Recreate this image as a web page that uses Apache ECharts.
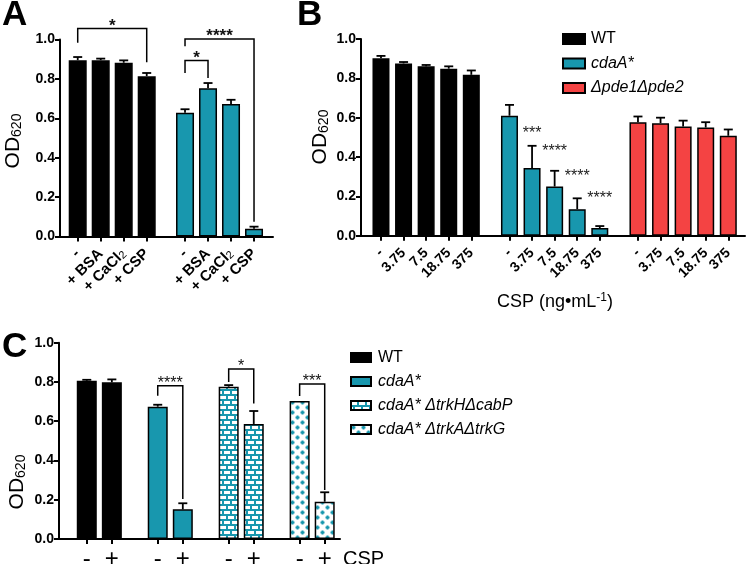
<!DOCTYPE html>
<html><head><meta charset="utf-8">
<script src="https://cdn.jsdelivr.net/npm/echarts@6/dist/echarts.min.js"></script>
<style>html,body{margin:0;padding:0;background:#fff}#c{width:750px;height:564px}</style>
</head><body><div id="c"></div>
<script>
// ================= DATA =================
// Panel A
const labelsA = ['-', '+ BSA', '+ CaCl{sub|2}', '+ CSP'];
const wtA = [0.895, 0.895, 0.882, 0.814];
const wtA_err = [0.016, 0.008, 0.012, 0.016];
const cdaA_A = [0.628, 0.752, 0.672, 0.039];
const cdaA_A_err = [0.018, 0.027, 0.022, 0.011];
// brackets: [group1, idx1, group2, idx2, top, leftEnd, rightEnd]
const bracketsA = [[0, 0, 0, 3, 1.056, 0.983, 0.884], [1, 0, 1, 3, 1.003, 0.966, 0.075], [1, 0, 1, 1, 0.893, 0.83, 0.805]];
const bracketTextA = ['*', '****', '*'];

// Panel B  (CSP ng/mL)
const labelsB = ['-', '3.75', '7.5', '18.75', '375'];
const wtB = [0.902, 0.876, 0.861, 0.849, 0.818];
const wtB_err = [0.012, 0.007, 0.007, 0.012, 0.022];
const cdaA_B = [0.61, 0.344, 0.25, 0.135, 0.039];
const cdaA_B_err = [0.055, 0.113, 0.08, 0.055, 0.01];
const pdeB = [0.577, 0.572, 0.555, 0.55, 0.508];
const pdeB_err = [0.029, 0.028, 0.03, 0.027, 0.032];
const starIdxB = [1, 2, 3, 4];
const starTextB = ['***', '****', '****', '****'];
const starYB = [0.52, 0.43, 0.30, 0.19];

// Panel C
const labelsC = ['-', '+'];
const strainsC = ['WT', 'cdaA*', 'cdaA* \u0394trkH\u0394cabP', 'cdaA* \u0394trkA\u0394trkG'];
const valuesC = [[0.806, 0.798], [0.674, 0.151], [0.776, 0.586], [0.703, 0.19]];
const errorsC = [[0.005, 0.015], [0.01, 0.031], [0.008, 0.066], [0, 0.048]];
const bracketsC = [[1, 0, 1, 1, 0.781, 0.73, 0.204], [2, 0, 2, 1, 0.866, 0.80, 0.69], [3, 0, 3, 1, 0.79, 0.728, 0.25]];
const bracketTextC = ['****', '*', '***'];

const yTicks = [0, 0.2, 0.4, 0.6, 0.8, 1.0];

// ================= STYLE / LAYOUT =================
const FONT = '"Liberation Sans", Arial, Helvetica, sans-serif';
const BLACK = '#000000', TEAL = '#1897ae', RED = '#f44343';

function brickPattern() {
  const c = document.createElement('canvas'); c.width = 8; c.height = 10;
  const g = c.getContext('2d');
  g.fillStyle = TEAL; g.fillRect(0, 0, 8, 10);
  g.fillStyle = '#ffffff';
  g.fillRect(0, 1, 6, 3); g.fillRect(4, 6, 4, 3); g.fillRect(0, 6, 2, 3);
  return c;
}
function plusPattern() {
  const c = document.createElement('canvas'); c.width = 10; c.height = 10;
  const g = c.getContext('2d');
  g.fillStyle = '#ffffff'; g.fillRect(0, 0, 10, 10);
  g.fillStyle = TEAL;
  [[2.5, 2.5], [7.5, 7.5]].forEach(([cx, cy]) => { g.fillRect(cx - 1, cy - 2, 2, 4); g.fillRect(cx - 2, cy - 1, 4, 2); });
  return c;
}
const colorsC = [BLACK, TEAL, { image: brickPattern(), repeat: 'repeat' }, { image: plusPattern(), repeat: 'repeat' }];

const layout = {
  A: { n: 4, gap: 1.665, min: -0.77, max: 8.49, grid: { left: 60, top: 39.5, width: 213, height: 197 }, bw: 18 },
  B: { n: 5, gap: 1.69, min: -0.885, max: 16.12, grid: { left: 361, top: 39, width: 384, height: 196.7 }, bw: 17 },
  C: { n: 2, gap: 1.83, min: -1.108, max: 10.10, grid: { left: 59, top: 342.7, width: 281, height: 196.3 }, bw: 20 }
};
function pos(L, g, i) { return g * (L.n - 1 + L.gap) + i; }

const grids = [], xAxes = [], yAxes = [], series = [];

function addAxes(L, gi, nGroups, labels, labelOpt) {
  grids.push(Object.assign({ containLabel: false, outerBoundsMode: 'none' }, L.grid));
  const ticks = [], map = {};
  for (let g = 0; g < nGroups; g++) for (let i = 0; i < L.n; i++) {
    const p = pos(L, g, i); ticks.push(p); map[Math.round(p * 1000)] = labels[i];
  }
  xAxes.push({
    type: 'value', gridIndex: gi, min: L.min, max: L.max,
    axisLine: { show: true, onZero: false, lineStyle: { color: '#000', width: 2 } },
    axisTick: { show: true, customValues: ticks, length: 5, lineStyle: { color: '#000', width: 2 } },
    axisLabel: Object.assign({ customValues: ticks, formatter: v => map[Math.round(v * 1000)] || '', color: '#000', fontFamily: FONT }, labelOpt),
    splitLine: { show: false }
  });
  yAxes.push({
    type: 'value', gridIndex: gi, min: 0, max: 1, interval: 0.2,
    axisLine: { show: true, onZero: false, lineStyle: { color: '#000', width: 2 } },
    axisTick: { show: true, length: 5, lineStyle: { color: '#000', width: 2 } },
    axisLabel: { formatter: v => yTicks.includes(+v.toFixed(1)) ? v.toFixed(1) : '', fontSize: 14, fontWeight: 'bold', color: '#000', margin: 5, fontFamily: FONT },
    splitLine: { show: false }
  });
}

function addBars(name, gi, L, g, vals, color) {
  series.push({
    type: 'bar', name, xAxisIndex: gi, yAxisIndex: gi, barWidth: L.bw, barGap: '-100%',
    data: vals.map((v, i) => [pos(L, g, i), v]),
    itemStyle: { color, borderColor: '#000', borderWidth: 1.5 }, silent: true
  });
}
function addErr(gi, L, items) { // items: [g, i, mean, err]
  series.push({
    type: 'custom', xAxisIndex: gi, yAxisIndex: gi, silent: true, clip: false, z: 3,
    data: items.map(([g, i, m, e]) => [pos(L, g, i), m, e]),
    encode: { x: 0, y: 1 },
    renderItem: (params, api) => {
      const x = api.value(0), m = api.value(1), e = api.value(2);
      if (!(e > 0)) return null;
      const p0 = api.coord([x, m]), p1 = api.coord([x, m + e]);
      const st = { stroke: '#000', lineWidth: 1.8 };
      return { type: 'group', children: [
        { type: 'line', shape: { x1: p0[0], y1: p0[1], x2: p1[0], y2: p1[1] }, style: st },
        { type: 'line', shape: { x1: p1[0] - 4.5, y1: p1[1], x2: p1[0] + 4.5, y2: p1[1] }, style: st }
      ] };
    }
  });
}
function addBrackets(gi, L, list, texts, font, textOff) {
  series.push({
    type: 'custom', xAxisIndex: gi, yAxisIndex: gi, silent: true, clip: false, z: 4,
    data: list.map(b => [pos(L, b[0], b[1]), pos(L, b[2], b[3]), b[4], b[5], b[6]]),
    encode: { x: 0, y: 2 },
    renderItem: (params, api) => {
      const x1 = api.value(0), x2 = api.value(1), t = api.value(2), yl = api.value(3), yr = api.value(4);
      const a = api.coord([x1, yl]), b = api.coord([x1, t]), c = api.coord([x2, t]), d = api.coord([x2, yr]);
      return { type: 'group', children: [
        { type: 'polyline', shape: { points: [a, b, c, d] }, style: { stroke: '#000', lineWidth: 1.5, fill: null } },
        { type: 'text', x: (b[0] + c[0]) / 2, y: b[1] - textOff, style: { text: texts[params.dataIndex], font, fill: '#111', align: 'center', verticalAlign: 'middle' } }
      ] };
    }
  });
}

// ---- Panel A
const LA = layout.A;
addAxes(LA, 0, 2, labelsA, { rotate: 45, fontSize: 15, fontWeight: 'bold', margin: 15,
  rich: { sub: { fontSize: 11, fontWeight: 'normal', verticalAlign: 'bottom', fontFamily: FONT, color: '#000' } } });
addBars('WT', 0, LA, 0, wtA, BLACK);
addBars('cdaA*', 0, LA, 1, cdaA_A, TEAL);
addErr(0, LA, wtA.map((v, i) => [0, i, v, wtA_err[i]]).concat(cdaA_A.map((v, i) => [1, i, v, cdaA_A_err[i]])));
addBrackets(0, LA, bracketsA, bracketTextA, 'bold 17px ' + FONT, 2.5);

// ---- Panel B
const LB = layout.B;
addAxes(LB, 1, 3, labelsB, { rotate: 45, fontSize: 14, fontWeight: 'bold', margin: 15 });
addBars('WT', 1, LB, 0, wtB, BLACK);
addBars('cdaA*', 1, LB, 1, cdaA_B, TEAL);
addBars('\u0394pde1\u0394pde2', 1, LB, 2, pdeB, RED);
addErr(1, LB, wtB.map((v, i) => [0, i, v, wtB_err[i]])
  .concat(cdaA_B.map((v, i) => [1, i, v, cdaA_B_err[i]]))
  .concat(pdeB.map((v, i) => [2, i, v, pdeB_err[i]])));
series.push({
  type: 'custom', xAxisIndex: 1, yAxisIndex: 1, silent: true, clip: false, z: 4,
  data: starIdxB.map((i, k) => [pos(LB, 1, i), starYB[k]]),
  encode: { x: 0, y: 1 },
  renderItem: (params, api) => {
    const p = api.coord([api.value(0), api.value(1)]);
    return { type: 'text', x: p[0], y: p[1], style: { text: starTextB[params.dataIndex], font: '16px ' + FONT, fill: '#222', align: 'center', verticalAlign: 'middle' } };
  }
});

// ---- Panel C
const LC = layout.C;
addAxes(LC, 2, 4, labelsC, { rotate: 0, fontSize: 24, fontWeight: 'normal', margin: 8 });
strainsC.forEach((s, g) => addBars(s, 2, LC, g, valuesC[g], colorsC[g]));
let itemsC = [];
valuesC.forEach((arr, g) => arr.forEach((v, i) => itemsC.push([g, i, v, errorsC[g][i]])));
addErr(2, LC, itemsC);
addBrackets(2, LC, bracketsC, bracketTextC, '16px ' + FONT, 2);

const legendFmt = n => n === 'WT' ? n : '{i|' + n + '}';
const legendRich = { i: { fontStyle: 'italic', fontWeight: 'normal', fontSize: 16, fontFamily: FONT, color: '#000' } };

const option = {
  animation: false,
  textStyle: { fontFamily: FONT },
  grid: grids, xAxis: xAxes, yAxis: yAxes, series,
  legend: [
    { orient: 'vertical', left: 557, top: 26, icon: 'rect', itemWidth: 22, itemHeight: 10, itemGap: 8.5,
      data: ['WT', 'cdaA*', '\u0394pde1\u0394pde2'], formatter: legendFmt, selectedMode: false,
      textStyle: { fontSize: 16, fontWeight: 'normal', color: '#000', padding: [0, 0, 0, 1], rich: legendRich } },
    { orient: 'vertical', left: 345, top: 344.5, icon: 'rect', itemWidth: 20, itemHeight: 9, itemGap: 8,
      data: strainsC, formatter: legendFmt, selectedMode: false,
      textStyle: { fontSize: 16, fontWeight: 'normal', color: '#000', padding: [0, 0, 0, 2], rich: legendRich } }
  ],
  graphic: [
    { type: 'text', x: 2, y: 15.5, style: { text: 'A', font: 'bold 35px ' + FONT, fill: '#000', verticalAlign: 'middle' } },
    { type: 'text', x: 297, y: 15.5, style: { text: 'B', font: 'bold 35px ' + FONT, fill: '#000', verticalAlign: 'middle' } },
    { type: 'text', x: 2, y: 347, style: { text: 'C', font: 'bold 35px ' + FONT, fill: '#000', verticalAlign: 'middle' } },
    ...[[12, 141], [319, 137], [16, 482]].map(([x, y]) => ({
      type: 'text', x, y, rotation: Math.PI / 2,
      style: { text: '{a|OD}{s|620}', align: 'center', verticalAlign: 'middle', fill: '#000',
        rich: { a: { fontSize: 21, fontFamily: FONT, lineHeight: 24, verticalAlign: 'bottom' },
                s: { fontSize: 14, fontFamily: FONT, lineHeight: 24, verticalAlign: 'bottom', padding: [8, 0, 0, 0] } } }
    })),
    { type: 'text', x: 555, y: 302, style: { text: '{a|CSP (ng\u2022mL}{s|-1}{a|)}', align: 'center', verticalAlign: 'middle', fill: '#000',
        rich: { a: { fontSize: 18, fontFamily: FONT, lineHeight: 20 }, s: { fontSize: 12, fontFamily: FONT, verticalAlign: 'top', lineHeight: 20, padding: [0, 0, 8, 0] } } } },
    { type: 'text', x: 343, y: 559, style: { text: 'CSP', font: '20px ' + FONT, fill: '#000', verticalAlign: 'middle' } }
  ]
};
const chart = echarts.init(document.getElementById('c'), null, { renderer: 'canvas', width: 750, height: 564 });
chart.setOption(option);
</script>
</body></html>
